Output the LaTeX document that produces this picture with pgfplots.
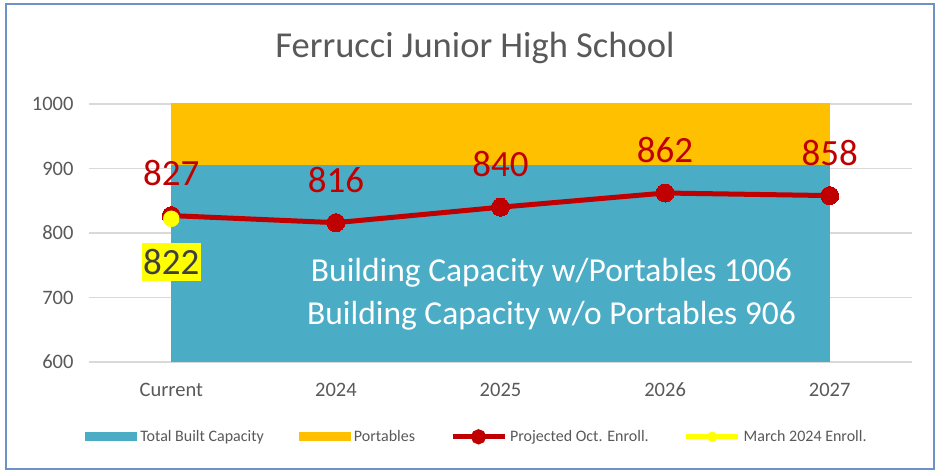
\documentclass[border=0pt]{standalone}
\usepackage{pgfplots}
\pgfplotsset{compat=1.18}
\usepackage{fontspec}
\setmainfont{Carlito}
\definecolor{capblue}{RGB}{75,172,198}
\definecolor{portorange}{RGB}{255,192,0}
\definecolor{enrred}{RGB}{192,0,0}
\definecolor{marchyel}{RGB}{255,255,0}
\definecolor{txtgray}{RGB}{89,89,89}
\definecolor{gridgray}{RGB}{217,217,217}
\definecolor{framecol}{RGB}{110,145,200}
\begin{document}
\begin{tikzpicture}
\fill[white] (0,0) rectangle (938pt,473pt);
\useasboundingbox (0,0) rectangle (938pt,473pt);
\draw[framecol, line width=1.5pt] (6pt,4pt) rectangle (934pt,469pt);
\begin{axis}[
  at={(89pt,111pt)}, anchor=south west,
  scale only axis, width=823pt, height=258pt,
  xmin=-0.5, xmax=4.5, ymin=600, ymax=1000,
  xtick={0,1,2,3,4},
  xticklabels={Current,2024,2025,2026,2027},
  ytick={600,700,800,900,1000},
  axis line style={draw=none},
  major tick length=0pt,
  ymajorgrids, grid style={gridgray, line width=1.2pt},
  /pgf/number format/assume math mode=true,
  /pgf/number format/1000 sep={},
  tick label style={font=\fontsize{20.5}{24}\selectfont, text=txtgray},
  yticklabel style={anchor=east, xshift=-12pt},
  xticklabel style={anchor=center, yshift=-28pt},
  title={Ferrucci Junior High School},
  title style={font=\fontsize{36.5}{40}\selectfont, text=txtgray, at={(0.469,1)}, anchor=center, yshift=50pt},
  legend columns=-1,
  legend style={at={(0.472,-0.29)}, anchor=center, draw=none, fill=none,
    font=\fontsize{16}{19}\selectfont, text=txtgray,
    /tikz/every even column/.append style={column sep=32pt},
    nodes={inner sep=3pt}},
]
\addplot[fill=capblue, draw=none,
  legend image code/.code={\fill[capblue] (0pt,-4.5pt) rectangle (52pt,4.5pt);}]
  coordinates {(0,600) (0,906) (4,906) (4,600)} -- cycle;
\addlegendentry{Total Built Capacity}
\addplot[fill=portorange, draw=none,
  legend image code/.code={\fill[portorange] (0pt,-4.5pt) rectangle (52pt,4.5pt);}]
  coordinates {(0,906) (0,1006) (4,1006) (4,906)} -- cycle;
\addlegendentry{Portables}
\addplot[enrred, line width=5pt, mark=*, mark size=9pt,
  mark options={solid, fill=enrred, draw=enrred, line width=0pt},
  point meta=explicit symbolic,
  nodes near coords,
  every node near coord/.append style={anchor=center, yshift=43pt,
    font=\fontsize{37}{40}\selectfont, text=enrred},
  legend image code/.code={\draw[enrred, line width=5pt] (0pt,0pt) -- (52pt,0pt);
    \fill[enrred] (26pt,0pt) circle (5pt);}]
  coordinates {(0,827) [827] (1,816) [816] (2,840) [840] (3,862) [862] (4,858) [858]};
\addlegendentry{Projected Oct. Enroll.}
\addplot[marchyel, only marks, mark=*, mark size=8pt,
  mark options={fill=marchyel, draw=marchyel},
  point meta=explicit symbolic,
  nodes near coords,
  every node near coord/.append style={anchor=center, yshift=-43pt,
    font=\fontsize{37}{40}\selectfont, text={rgb,255:red,64;green,64;blue,64},
    fill=marchyel, inner xsep=1.5pt, inner ysep=6pt},
  legend image code/.code={\draw[marchyel, line width=5pt] (0pt,0pt) -- (52pt,0pt);
    \fill[marchyel] (26pt,0pt) circle (5pt);}]
  coordinates {(0,822) [822]};
\addlegendentry{March 2024 Enroll.}
\node[text=white, align=center, font=\fontsize{33.5}{43}\selectfont]
  at (axis cs:2.31,705) {Building Capacity w/Portables 1006\\Building Capacity w/o Portables 906};
\end{axis}
\end{tikzpicture}
\end{document}
